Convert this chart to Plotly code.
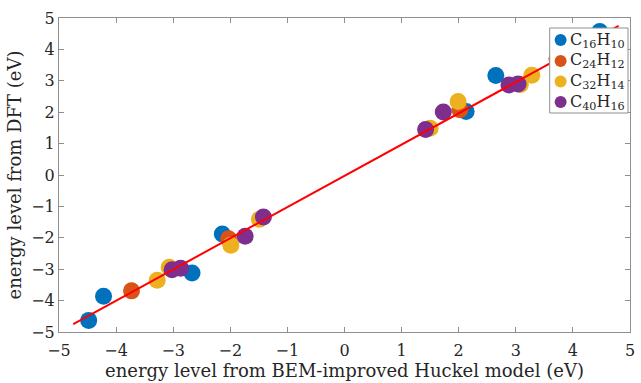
import plotly.graph_objects as go

# Data (Huckel vs DFT energy levels, eV)
c16_x = [-4.48, -4.22, -2.67, -2.14, 2.13, 2.65, 4.47]
c16_y = [-4.63, -3.86, -3.12, -1.88, 2.02, 3.17, 4.57]

c24_x = [-3.73, -2.03, 2.02, 3.72]
c24_y = [-3.69, -2.03, 2.08, 3.70]

c32_x = [-3.28, -3.07, -1.99, -1.49, 1.50, 1.99, 3.08, 3.28]
c32_y = [-3.35, -2.94, -2.24, -1.41, 1.49, 2.34, 2.88, 3.18]

c40_x = [-3.02, -2.87, -1.74, -1.42, 1.42, 1.73, 2.88, 3.04]
c40_y = [-3.02, -2.97, -1.95, -1.34, 1.45, 2.01, 2.87, 2.90]

fit_x = [-4.75, 4.8]
fit_y = [-4.75, 4.75]

series_names = ["C<sub>16</sub>H<sub>10</sub>", "C<sub>24</sub>H<sub>12</sub>",
                "C<sub>32</sub>H<sub>14</sub>", "C<sub>40</sub>H<sub>16</sub>"]
series_colors = ["#0072BD", "#D95319", "#EDB120", "#7E2F8E"]
series_x = [c16_x, c24_x, c32_x, c40_x]
series_y = [c16_y, c24_y, c32_y, c40_y]

FONT = "DejaVu Serif"
W, H = 641, 383
ML, MR, MT, MB = 59, 6, 18, 51
PW, PH = W - ML - MR, H - MT - MB


def px_x(p):
    return (p - ML) / PW


def px_y(p):
    return (H - MB - p) / PH


fig = go.Figure()
for name, xs, ys, col in zip(series_names, series_x, series_y, series_colors):
    fig.add_trace(go.Scatter(
        x=xs, y=ys, mode="markers", name=name, showlegend=False,
        marker=dict(size=17, color=col, line=dict(width=0)),
    ))

fig.add_trace(go.Scatter(
    x=fit_x, y=fit_y, mode="lines", showlegend=False,
    line=dict(color="#ff0000", width=2),
))

axis_common = dict(
    showline=True, linecolor="#8f8f8f", linewidth=1, mirror="ticks",
    ticks="inside", ticklen=5, tickcolor="#8f8f8f", tickwidth=1,
    showgrid=False, zeroline=False,
    tickfont=dict(family=FONT, size=16, color="#262626"),
    title_font=dict(family=FONT, size=18, color="#262626"),
    dtick=1,
)

# Legend box (drawn as shapes + text so its compact layout matches)
shapes = [dict(type="rect", xref="paper", yref="paper",
               x0=px_x(554), x1=px_x(633), y0=px_y(113), y1=px_y(28),
               fillcolor="white", line=dict(color="#8f8f8f", width=1),
               layer="above")]
annotations = []
leg_rows = [40, 61, 81.5, 102]
for name, col, ry in zip(series_names, series_colors, leg_rows):
    shapes.append(dict(type="circle", xref="paper", yref="paper",
                       xsizemode="pixel", ysizemode="pixel",
                       xanchor=px_x(565), yanchor=px_y(ry),
                       x0=-6, x1=6, y0=-6, y1=6,
                       fillcolor=col, line=dict(width=0), layer="above"))
    annotations.append(dict(xref="paper", yref="paper",
                            x=px_x(572), y=px_y(ry), xanchor="left", yanchor="middle",
                            text=name, showarrow=False,
                            font=dict(family=FONT, size=16, color="#262626")))

fig.update_layout(
    width=W, height=H,
    margin=dict(l=ML, r=MR, t=MT, b=MB),
    paper_bgcolor="white", plot_bgcolor="white",
    font=dict(family=FONT, size=16, color="#262626"),
    showlegend=False,
    xaxis=dict(range=[-5, 5], tick0=-5, ticklabelstandoff=4,
               title=dict(text="energy level from BEM-improved Huckel model (eV)", standoff=2),
               **axis_common),
    yaxis=dict(range=[-5, 5], tick0=-5,
               title=dict(text="energy level from DFT (eV)", standoff=4),
               **axis_common),
    shapes=shapes,
    annotations=annotations,
)

fig.write_html("out.html")
